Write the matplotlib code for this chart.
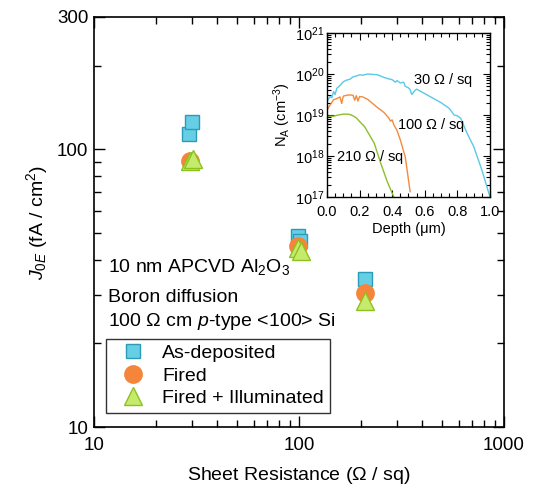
import numpy as np
import matplotlib
matplotlib.use('Agg')
import matplotlib.pyplot as plt
from matplotlib.ticker import LogLocator, FixedLocator, NullFormatter, MultipleLocator, LogFormatterMathtext

plt.rcParams['font.family'] = ['Liberation Sans', 'DejaVu Sans']
plt.rcParams['mathtext.fontset'] = 'custom'
plt.rcParams['mathtext.rm'] = 'Liberation Sans'
plt.rcParams['mathtext.it'] = 'Liberation Sans:italic'
plt.rcParams['mathtext.bf'] = 'Liberation Sans:bold'

# main data: sheet resistance (ohm/sq) vs J0E (fA/cm2)
rs_asdep = [29.1, 30.1, 98.9, 101.0, 210.0]
j0_asdep = [114, 126, 48.8, 46.8, 34.1]
rs_fired = [29.4, 99.0, 210.0]
j0_fired = [90.8, 44.9, 30.4]
rs_illum = [29.5, 30.5, 98.5, 102.0, 210.0]
j0_illum = [91, 92, 44.2, 43.0, 28.4]

# inset: boron profiles, depth (um) vs log10(N_A)
d30 = [0.0, 0.01, 0.02, 0.03, 0.04, 0.05, 0.06, 0.08, 0.10, 0.12, 0.14, 0.16, 0.18, 0.20, 0.22, 0.25,
       0.28, 0.31, 0.34, 0.37, 0.40, 0.42, 0.43, 0.45, 0.47, 0.48, 0.50, 0.51, 0.52, 0.54, 0.55,
       0.60, 0.65, 0.70, 0.75, 0.78, 0.80, 0.82, 0.86, 0.90, 0.95, 1.0]
n30 = [19.33, 19.40, 19.45, 19.42, 19.57, 19.50, 19.65, 19.72, 19.81, 19.85, 19.87, 19.93, 19.95, 19.98, 19.97, 20.0,
       19.99, 19.98, 19.93, 19.89, 19.86, 19.80, 19.84, 19.78, 19.80, 19.70, 19.66, 19.62, 19.50, 19.60, 19.63,
       19.52, 19.41, 19.30, 19.16, 19.00, 18.98, 18.92, 18.55, 18.23, 17.66, 17.0]
d100 = [0.0, 0.02, 0.04, 0.06, 0.08, 0.09, 0.10, 0.12, 0.14, 0.16, 0.17, 0.18, 0.19, 0.20, 0.22,
        0.25, 0.28, 0.31, 0.35, 0.38, 0.39, 0.40, 0.41, 0.43, 0.45, 0.48, 0.51]
n100 = [19.12, 19.25, 19.37, 19.40, 19.44, 19.28, 19.46, 19.48, 19.49, 19.48, 19.36, 19.47, 19.34, 19.45, 19.44,
        19.38, 19.28, 19.18, 19.06, 18.92, 18.85, 18.88, 18.76, 18.62, 18.39, 17.98, 17.13]
d210 = [0.0, 0.02, 0.04, 0.07, 0.10, 0.13, 0.15, 0.18, 0.20, 0.23, 0.255, 0.29, 0.33, 0.37, 0.41]
n210 = [18.96, 18.97, 18.97, 19.0, 19.02, 19.02, 19.0, 18.93, 18.84, 18.72, 18.55, 18.31, 17.82, 17.37, 17.0]

fig = plt.figure(figsize=(5.33, 4.87), dpi=100)
ax = fig.add_axes([0.1764, 0.1232, 0.7692, 0.8419])

ax.plot(rs_asdep, j0_asdep, 's', ms=10.5, mfc='#66cfe6', mec='#2b9bb8', mew=1.0, ls='none', label='As-deposited')
ax.plot(rs_fired, j0_fired, 'o', ms=12.5, mfc='#f5853a', mec='#f5853a', mew=1.0, ls='none', label='Fired')
ax.plot(rs_illum, j0_illum, '^', ms=13, mfc='#c6eb6c', mec='#8cc21e', mew=1.0, ls='none', label='Fired + Illuminated')

ax.set_xscale('log')
ax.set_yscale('log')
ax.set_xlim(10, 1000)
ax.set_ylim(10, 300)
ax.yaxis.set_major_locator(FixedLocator([10, 100, 300]))
ax.yaxis.set_major_formatter(matplotlib.ticker.FixedFormatter(['10', '100', '300']))
ax.yaxis.set_minor_locator(FixedLocator([20, 30, 40, 50, 60, 70, 80, 90, 200]))
ax.yaxis.set_minor_formatter(NullFormatter())
ax.xaxis.set_major_locator(FixedLocator([10, 100, 1000]))
ax.xaxis.set_major_formatter(matplotlib.ticker.FixedFormatter(['10', '100', '1000']))
ax.xaxis.set_minor_locator(LogLocator(base=10, subs=np.arange(2, 10)))
ax.xaxis.set_minor_formatter(NullFormatter())
ax.tick_params(which='both', direction='in', top=True, right=True, labelsize=13.5, width=1)
ax.tick_params(which='major', length=8)
ax.tick_params(which='minor', length=5)
ax.tick_params(axis='x', pad=7)
ax.tick_params(axis='y', pad=4)
for s in ax.spines.values():
    s.set_linewidth(1.2)

ax.set_xlabel('Sheet Resistance ($\\Omega$ / sq)', fontsize=14, labelpad=8)
ax.set_ylabel('$J_{0E}$ (fA / cm$^2$)', fontsize=14, labelpad=5)

ax.text(0.034, 0.390, '10 nm APCVD Al$_2$O$_3$', transform=ax.transAxes, fontsize=14, va='center')
ax.text(0.034, 0.315, 'Boron diffusion', transform=ax.transAxes, fontsize=14, va='center')
ax.text(0.034, 0.258, '100 $\\Omega$ cm $p$-type <100> Si', transform=ax.transAxes, fontsize=14, va='center')

leg = ax.legend(loc='lower left', bbox_to_anchor=(0.029, 0.034), fontsize=14, frameon=True, fancybox=False,
                edgecolor='black', borderpad=0.3, handletextpad=0.39, labelspacing=0.25, handlelength=2.2,
                borderaxespad=0)
leg.get_frame().set_linewidth(1.0)

# inset
ins = fig.add_axes([0.6135, 0.5955, 0.3058, 0.3368])
ins.plot(d30, 10 ** np.array(n30), color='#5bc9e6', lw=1.0)
ins.plot(d100, 10 ** np.array(n100), color='#f58a3c', lw=1.0)
ins.plot(d210, 10 ** np.array(n210), color='#8bbf2a', lw=1.0)
ins.set_yscale('log')
ins.set_xlim(0, 1.0)
ins.set_ylim(1e17, 1e21)
ins.yaxis.set_major_locator(LogLocator(base=10, numticks=10))
ins.yaxis.set_major_formatter(LogFormatterMathtext())
ins.yaxis.set_minor_locator(LogLocator(base=10, subs=np.arange(2, 10), numticks=20))
ins.yaxis.set_minor_formatter(NullFormatter())
ins.xaxis.set_major_locator(MultipleLocator(0.2))
ins.xaxis.set_minor_locator(MultipleLocator(0.05))
ins.xaxis.set_major_formatter(matplotlib.ticker.FormatStrFormatter('%.1f'))
ins.tick_params(which='both', direction='in', top=True, right=True, labelsize=10.5, width=0.8)
ins.tick_params(which='major', length=5)
ins.tick_params(which='minor', length=3)
ins.tick_params(axis='y', pad=2)
ins.tick_params(axis='x', pad=6)
for s in ins.spines.values():
    s.set_linewidth(1.0)
ins.set_xlabel('Depth (μm)', fontsize=10.5, labelpad=2)
ins.set_ylabel('N$_\\mathrm{A}$ (cm$^{-3}$)', fontsize=10.5, labelpad=1)

ins.text(0.53, 10 ** 19.85, '30 $\\Omega$ / sq', fontsize=10.5, va='center')
ins.text(0.43, 10 ** 18.76, '100 $\\Omega$ / sq', fontsize=10.5, va='center')
ins.text(0.055, 10 ** 17.98, '210 $\\Omega$ / sq', fontsize=10.5, va='center')

fig.savefig('out.png', dpi=100)
